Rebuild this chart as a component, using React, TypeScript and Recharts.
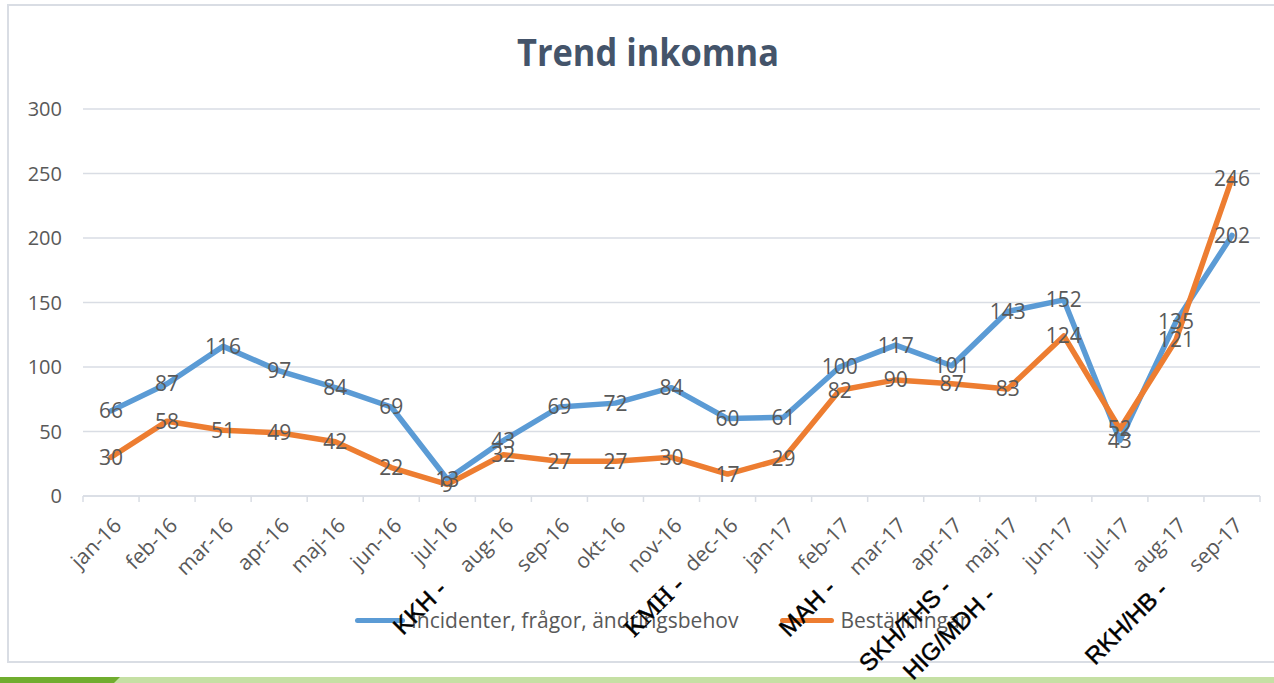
import { LineChart, Line, XAxis, YAxis, CartesianGrid, LabelList } from 'recharts'

const months = [
  'jan-16', 'feb-16', 'mar-16', 'apr-16', 'maj-16', 'jun-16', 'jul-16', 'aug-16', 'sep-16', 'okt-16', 'nov-16', 'dec-16',
  'jan-17', 'feb-17', 'mar-17', 'apr-17', 'maj-17', 'jun-17', 'jul-17', 'aug-17', 'sep-17',
]
const incidenter = [66, 87, 116, 97, 84, 69, 13, 43, 69, 72, 84, 60, 61, 100, 117, 101, 143, 152, 43, 135, 202]
const bestallningar = [30, 58, 51, 49, 42, 22, 9, 32, 27, 27, 30, 17, 29, 82, 90, 87, 83, 124, 52, 121, 246]
const yTicks = [0, 50, 100, 150, 200, 250, 300]

// rotated notes lying on top of the chart
const notes = [
  { text: 'KKH -', x: 403, y: 636, serif: false },
  { text: 'KMH -', x: 634, y: 638, serif: true },
  { text: 'MAH -', x: 789, y: 638, serif: false },
  { text: 'SKH/THS -', x: 869, y: 673, serif: false },
  { text: 'HIG/MDH -', x: 913, y: 681, serif: false },
  { text: 'RKH/HB -', x: 1095, y: 666, serif: false },
]

const W = 1274
const H = 683
const PLOT_LEFT = 83
const PLOT_RIGHT = 1260
const STEP = (PLOT_RIGHT - PLOT_LEFT) / months.length

const FONT = '"Open Sans", sans-serif'
const TEXT = '#595959'
const GRID = '#d9dde4'
const BLUE = '#5b9bd5'
const ORANGE = '#ed7d31'

const data = months.map((m, i) => ({ i, month: m, inc: incidenter[i], best: bestallningar[i] }))

const MonthTick = ({ x, y, payload }: { x: number; y: number; payload: { value: number } }) => {
  const idx = payload.value
  const half = STEP / 2
  const tx = x + 6
  const ty = y + 25
  return (
    <g>
      <line x1={x - half} y1={y} x2={x - half} y2={y + 6} stroke={GRID} strokeWidth={1.5} />
      {idx === months.length - 1 && (
        <line x1={x + half} y1={y} x2={x + half} y2={y + 6} stroke={GRID} strokeWidth={1.5} />
      )}
      <text
        x={tx}
        y={ty}
        textAnchor="end"
        dominantBaseline="central"
        transform={`rotate(-45, ${tx}, ${ty})`}
        fill={TEXT}
        fontSize={21}
        fontFamily={FONT}
      >
        {months[idx]}
      </text>
    </g>
  )
}

export default function App() {
  return (
    <div style={{ position: 'absolute', left: 0, top: 0, width: W, height: H, background: '#fff', overflow: 'hidden' }}>
      <LineChart width={W} height={H} data={data} margin={{ top: 109, right: W - PLOT_RIGHT, bottom: 107, left: 0 }}>
        <CartesianGrid vertical={false} stroke={GRID} strokeWidth={1.5} />
        <XAxis
          dataKey="i"
          type="number"
          domain={[-0.5, months.length - 0.5]}
          ticks={months.map((_, i) => i)}
          interval={0}
          tickSize={0}
          tickMargin={0}
          tickLine={false}
          axisLine={{ stroke: GRID, strokeWidth: 1.5 }}
          tick={MonthTick as any}
          height={80}
        />
        <YAxis
          domain={[0, 300]}
          ticks={yTicks}
          width={PLOT_LEFT}
          axisLine={false}
          tickLine={false}
          tickMargin={15}
          tick={{ fill: TEXT, fontSize: 20, fontFamily: FONT }}
        />
        <Line dataKey="inc" stroke={BLUE} strokeWidth={5.5} strokeLinecap="round" strokeLinejoin="round" dot={false} activeDot={false} isAnimationActive={false} />
        <Line dataKey="best" stroke={ORANGE} strokeWidth={5.5} strokeLinecap="round" strokeLinejoin="round" dot={false} activeDot={false} isAnimationActive={false} />
        {/* labels drawn after both lines so they sit on top */}
        <Line dataKey="inc" stroke="none" dot={false} activeDot={false} legendType="none" isAnimationActive={false}>
          <LabelList dataKey="inc" position="center" fill={TEXT} fontSize={21} fontFamily={FONT} />
        </Line>
        <Line dataKey="best" stroke="none" dot={false} activeDot={false} legendType="none" isAnimationActive={false}>
          <LabelList dataKey="best" position="center" fill={TEXT} fontSize={21} fontFamily={FONT} />
        </Line>
      </LineChart>

      {/* legend */}
      <div style={{ position: 'absolute', left: 355, top: 606, display: 'flex', alignItems: 'center', fontFamily: FONT, fontSize: 21, color: TEXT }}>
        <span style={{ display: 'inline-block', width: 50, height: 5, borderRadius: 3, background: BLUE, marginRight: 6 }} />
        <span>Incidenter, frågor, ändringsbehov</span>
        <span style={{ display: 'inline-block', width: 54, height: 5, borderRadius: 3, background: ORANGE, marginLeft: 42, marginRight: 6 }} />
        <span>Beställningar</span>
      </div>

      <svg width={W} height={H} style={{ position: 'absolute', left: 0, top: 0, pointerEvents: 'none' }}>
        <rect x={8} y={5} width={W - 4} height={657} fill="none" stroke={GRID} strokeWidth={2} />
        <text x={648} y={66} textAnchor="middle" fill="#44546a" fontSize={38} fontWeight={700} fontFamily={FONT} textLength={262} lengthAdjust="spacingAndGlyphs">
          Trend inkomna
        </text>
        <rect x={0} y={677} width={W} height={6} fill="#c5e0a4" />
        <polygon points="0,677 120,677 114,683 0,683" fill="#70ad2f" />
        {notes.map((n) => (
          <text
            key={n.text}
            x={n.x}
            y={n.y}
            transform={`rotate(-45, ${n.x}, ${n.y})`}
            fill="#000"
            stroke="#000"
            strokeWidth={0.5}
            fontSize={n.serif ? 25 : 24}
            fontFamily={n.serif ? '"Liberation Serif", serif' : '"Liberation Sans", Arial, sans-serif'}
          >
            {n.text}
          </text>
        ))}
      </svg>
    </div>
  )
}
